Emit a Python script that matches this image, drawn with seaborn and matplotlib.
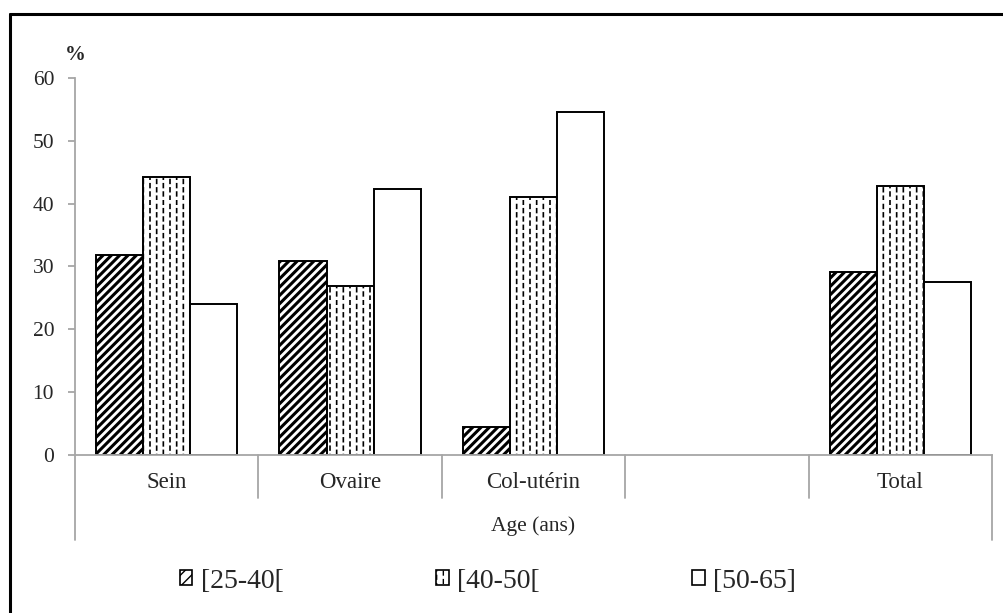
import numpy as np
import pandas as pd
import matplotlib
matplotlib.use("Agg")
import matplotlib.pyplot as plt
import matplotlib.hatch as mhatch
import matplotlib.transforms as mtransforms
from matplotlib.path import Path
from matplotlib.patches import Patch
from matplotlib.lines import Line2D
import seaborn as sns

# ---- data -------------------------------------------------------------
categories = ["Sein", "Ovaire", "Col-utérin", " ", "Total"]
age_groups = ["[25-40[", "[40-50[", "[50-65]"]
pct_25_40 = [31.8, 30.9, 4.5, None, 29.1]
pct_40_50 = [44.3, 26.9, 41.1, None, 42.8]
pct_50_65 = [24.0, 42.4, 54.6, None, 27.5]
axis_title = "Age (ans)"
y_unit = "%"
y_ticks = [0, 10, 20, 30, 40, 50, 60]


# ---- dashed vertical hatch (replaces the solid '|' hatch) -------------
class DashedVerticalHatch(mhatch.HatchPatternBase):
    def __init__(self, hatch, density):
        self.num_lines = int(hatch.count('|') * density * 1.25)
        self.num_dashes = 12
        self.num_vertices = self.num_lines * self.num_dashes * 2

    def set_vertices_and_codes(self, vertices, codes):
        k = 0
        for i in range(self.num_lines):
            x = (i + 0.5) / self.num_lines
            off = 0.5 if i % 2 else 0.0
            for j in range(self.num_dashes):
                y0 = (j + off) / self.num_dashes
                y1 = min(y0 + 0.45 / self.num_dashes, 1.0)
                vertices[k] = (x, y0)
                vertices[k + 1] = (x, y1)
                codes[k] = Path.MOVETO
                codes[k + 1] = Path.LINETO
                k += 2


mhatch._hatch_types[mhatch._hatch_types.index(mhatch.VerticalHatch)] = DashedVerticalHatch

# ---- style -------------------------------------------------------------
sns.set_style("white")
plt.rcParams['font.family'] = ['Liberation Serif', 'DejaVu Serif']
plt.rcParams['hatch.color'] = 'black'

W, H = 1004, 613
fig = plt.figure(figsize=(W / 100, H / 100), dpi=100)

# axes placed by pixel bounds
ax_left, ax_right, ax_top, ax_bottom = 75, 992, 78, 455
ax = fig.add_axes([ax_left / W, 1 - ax_bottom / H,
                   (ax_right - ax_left) / W, (ax_bottom - ax_top) / H])
ax_h = ax_bottom - ax_top

rows = []
for cat, a, b, c in zip(categories, pct_25_40, pct_40_50, pct_50_65):
    for grp, v in zip(age_groups, (a, b, c)):
        if v is not None:
            rows.append({"cancer": cat, "age": grp, "pct": v})
df = pd.DataFrame(rows)

sns.barplot(data=df, x="cancer", y="pct", hue="age", order=categories,
            hue_order=age_groups, palette=["white"] * 3, saturation=1,
            edgecolor="black", linewidth=1.4, width=0.77, gap=0,
            legend=False, errorbar=None, ax=ax)

hatches = ["////", "||", ""]
hatch_lw = [2.2, 1.2, 1.0]
for cont, h, hl in zip(ax.containers, hatches, hatch_lw):
    for bar in cont:
        bar.set_hatch(h)
        if hasattr(bar, "set_hatch_linewidth"):
            bar.set_hatch_linewidth(hl)

ax.set_xlim(-0.5, len(categories) - 0.5)
ax.set_ylim(0, 60)
ax.set_yticks(y_ticks)
ax.set_xlabel("")
ax.set_ylabel("")
ax.set_xticks([])

grey = "#a6a6a6"
for side in ("top", "right"):
    ax.spines[side].set_visible(False)
for side in ("left", "bottom"):
    ax.spines[side].set_color(grey)
    ax.spines[side].set_linewidth(1.3)
ax.tick_params(axis="y", length=5, width=1.3, color=grey, labelsize=15.5,
               pad=10, left=True)

# multi-level category axis below the bars
trans = mtransforms.blended_transform_factory(ax.transData, ax.transAxes)
sep_depth = (498 - ax_bottom) / ax_h
outer_depth = (540 - ax_bottom) / ax_h
for i in range(1, len(categories)):
    ax.add_line(Line2D([i - 0.5, i - 0.5], [0, -sep_depth], transform=trans,
                       color=grey, lw=1.3, clip_on=False))
for xb in (-0.5, len(categories) - 0.5):
    ax.add_line(Line2D([xb, xb], [0, -outer_depth], transform=trans,
                       color=grey, lw=1.3, clip_on=False))
for i, cat in enumerate(categories):
    ax.text(i, -(482 - ax_bottom) / ax_h, cat.strip(), transform=trans,
            ha="center", va="center", fontsize=16.5)
ax.text(0.5, -(526 - ax_bottom) / ax_h, axis_title, transform=ax.transAxes,
        ha="center", va="center", fontsize=15.5)

# unit label above the y axis
fig.text(75 / W, 1 - 55 / H, y_unit, ha="center", va="center",
         fontsize=15, fontweight="bold")

# legend along the bottom
handles = [Patch(facecolor="white", edgecolor="black", hatch=h, lw=1.2)
           for h in ["///", "||", ""]]
fig.legend(handles, age_groups, loc="center",
           bbox_to_anchor=(488 / W, 1 - 581 / H), ncol=3, frameon=False,
           fontsize=20, handlelength=0.45, handleheight=0.45,
           handletextpad=0.3, columnspacing=5.5)

# outer frame: left and top edges
fig.add_artist(Line2D([10 / W, 10 / W], [0, 1 - 14 / H],
                      transform=fig.transFigure, color="black", lw=2.2))
fig.add_artist(Line2D([10 / W, 1], [1 - 14 / H, 1 - 14 / H],
                      transform=fig.transFigure, color="black", lw=2.2))

fig.savefig("out.png", dpi=100)
